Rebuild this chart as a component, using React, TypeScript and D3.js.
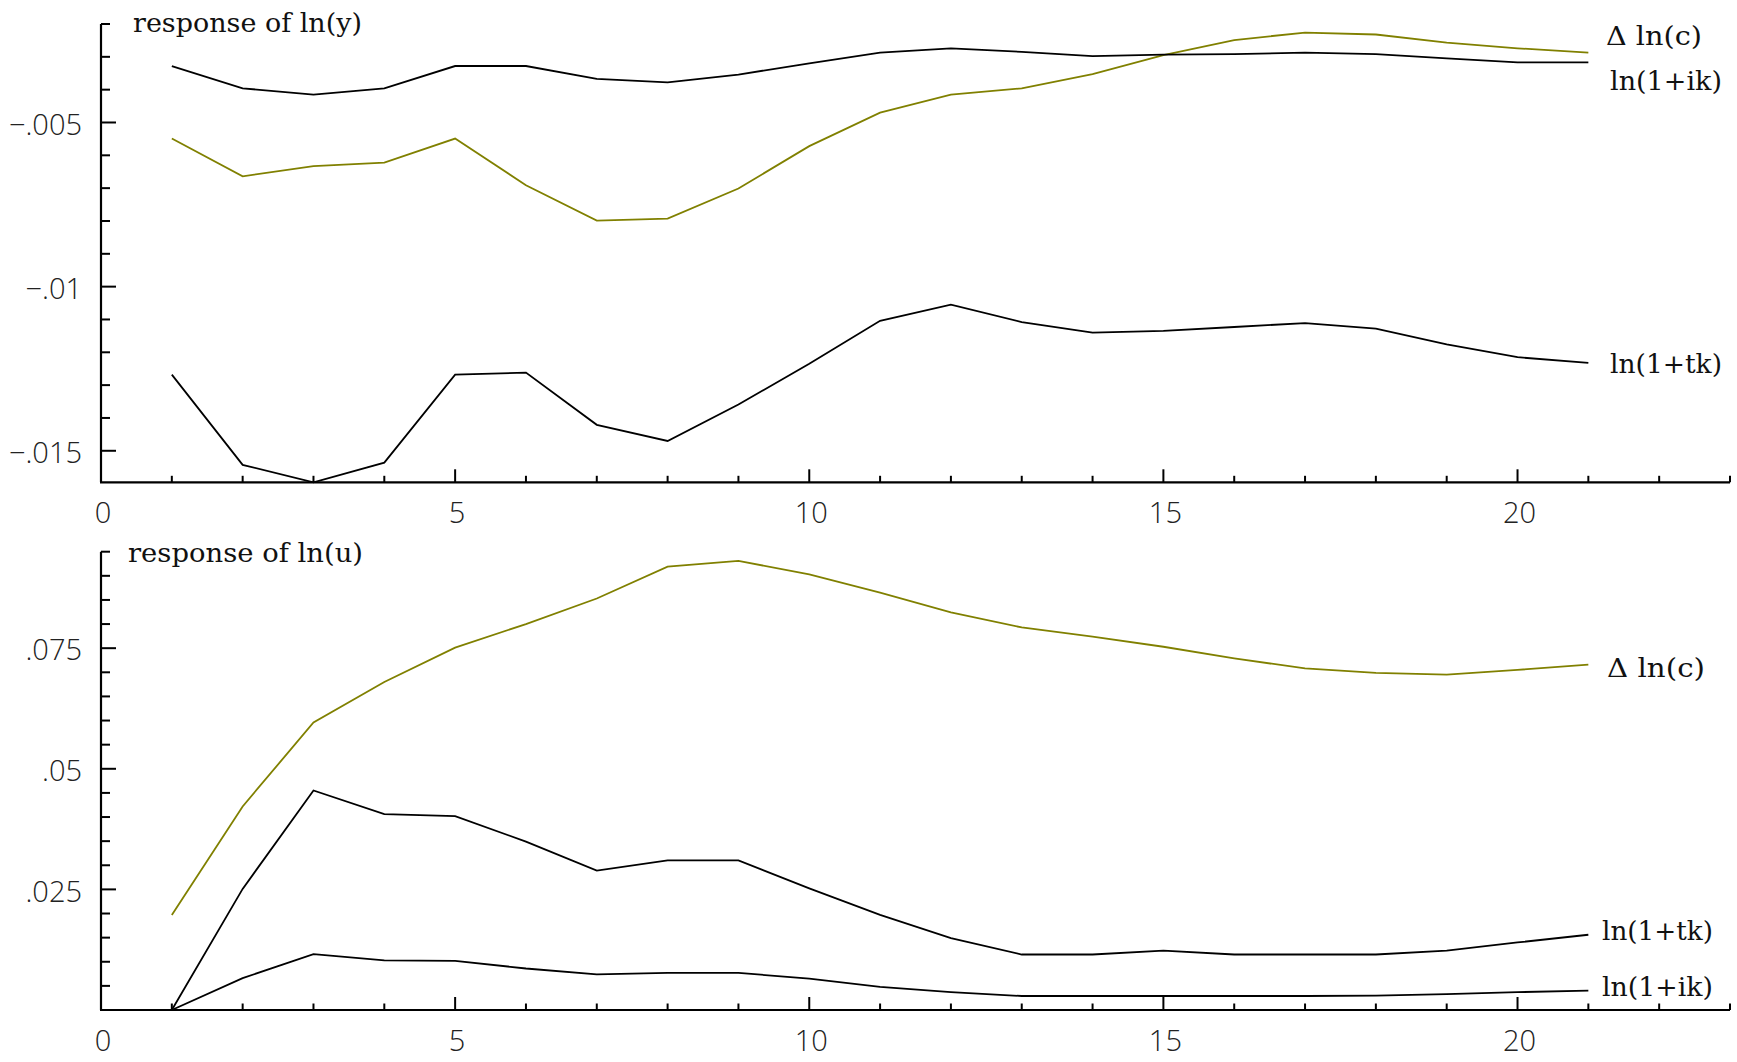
import React from "react";
import * as d3 from "d3";

const periods = [1, 2, 3, 4, 5, 6, 7, 8, 9, 10, 11, 12, 13, 14, 15, 16, 17, 18, 19, 20, 21];

const topIk = [-0.00328, -0.00396, -0.00415, -0.00396, -0.00328, -0.00328, -0.00367, -0.00378, -0.00354, -0.0032, -0.00287, -0.00274, -0.00285, -0.00298, -0.00293, -0.00292, -0.00287, -0.00292, -0.00305, -0.00317, -0.00317];
const topDc = [-0.00549, -0.00664, -0.00633, -0.00622, -0.00549, -0.00691, -0.00799, -0.00793, -0.00701, -0.00572, -0.0047, -0.00415, -0.00396, -0.00353, -0.00295, -0.00249, -0.00226, -0.00232, -0.00257, -0.00274, -0.00287];
const topTk = [-0.01268, -0.01543, -0.01596, -0.01536, -0.01268, -0.01262, -0.01421, -0.0147, -0.01359, -0.01235, -0.01104, -0.01055, -0.01108, -0.0114, -0.01135, -0.01123, -0.01111, -0.01128, -0.01176, -0.01215, -0.01232];

const botDc = [0.0197, 0.0422, 0.0596, 0.068, 0.0751, 0.08, 0.0853, 0.0919, 0.0931, 0.0903, 0.0865, 0.0824, 0.0793, 0.0774, 0.0753, 0.0729, 0.0708, 0.0699, 0.0695, 0.0705, 0.0716];
const botTk = [0, 0.0251, 0.0455, 0.0406, 0.0402, 0.0349, 0.0289, 0.031, 0.031, 0.0252, 0.0197, 0.0149, 0.0115, 0.0115, 0.0123, 0.0115, 0.0115, 0.0115, 0.0123, 0.014, 0.0156];
const botIk = [0, 0.0066, 0.0116, 0.0103, 0.0102, 0.0086, 0.0074, 0.0077, 0.0077, 0.0065, 0.0048, 0.0037, 0.0029, 0.0029, 0.0029, 0.0029, 0.0029, 0.003, 0.0033, 0.0037, 0.004];

const xLabelTicks = [0, 5, 10, 15, 20];
const topYLabelTicks = [-0.015, -0.01, -0.005];
const topYLabels = ["\u2212.015", "\u2212.01", "\u2212.005"];
const botYLabelTicks = [0.025, 0.05, 0.075];
const botYLabels = [".025", ".05", ".075"];

const OLIVE = "#808000";
const W = 1737;
const H = 1062;
const X0 = 101;
const X1 = 1730;

const xScale = d3.scaleLinear().domain([0, 23]).range([X0, X1]);
const xMinor = d3.range(0, 24);

const labelFont = "'DejaVu Serif', 'Liberation Serif', serif";
const tickFont = "'Open Sans', 'Liberation Sans', sans-serif";

type Series = { values: number[]; color: string; label: string; lx: number; ly: number; lw: number };

function Panel({ top, bottom, domain, minorTicks, majorTicks, majorLabels, series, title, titleX, titleY, titleW }: any) {
  const y = d3.scaleLinear().domain(domain).range([bottom, top]);
  const line = d3
    .line<number>()
    .x((_, i) => xScale(periods[i]))
    .y((d) => y(d));
  return (
    <g>
      {/* axes */}
      <line x1={X0} x2={X0} y1={top} y2={bottom} stroke="#000" strokeWidth={2.2} />
      <line x1={X0 - 1} x2={X1} y1={bottom} y2={bottom} stroke="#000" strokeWidth={2.2} />
      {minorTicks.map((t: number, i: number) => {
        const isMajor = majorTicks.some((m: number) => Math.abs(m - t) < 1e-9);
        return (
          <line key={"yt" + i} x1={X0} x2={X0 + (isMajor ? 15 : 9)} y1={y(t)} y2={y(t)} stroke="#000" strokeWidth={2} />
        );
      })}
      {xMinor.map((t) => {
        const isMajor = t % 5 === 0;
        return (
          <line key={"xt" + t} x1={xScale(t)} x2={xScale(t)} y1={bottom} y2={bottom - (isMajor ? 13 : 6.5)} stroke="#000" strokeWidth={2} />
        );
      })}
      {majorTicks.map((t: number, i: number) => (
        <text key={"yl" + i} x={82} y={y(t) + 4.5} textAnchor="end" dominantBaseline="middle" fontFamily={tickFont} fontWeight={300} fontSize={29} fill="#222">
          {majorLabels[i]}
        </text>
      ))}
      {xLabelTicks.map((t) => (
        <text key={"xl" + t} x={xScale(t) + 2} y={bottom + 33} textAnchor="middle" dominantBaseline="middle" fontFamily={tickFont} fontWeight={300} fontSize={29} fill="#222">
          {t}
        </text>
      ))}
      {/* title */}
      <text x={titleX} y={titleY} fontFamily={labelFont} fontSize={26} fill="#111" textLength={titleW} lengthAdjust="spacingAndGlyphs">
        {title}
      </text>
      {/* series */}
      {series.map((s: Series, i: number) => (
        <g key={"s" + i}>
          <path d={line(s.values) || ""} fill="none" stroke={s.color} strokeWidth={1.8} strokeLinejoin="miter" />
          <text x={s.lx} y={s.ly} fontFamily={labelFont} fontSize={26} fill="#111" textLength={s.lw} lengthAdjust="spacingAndGlyphs">
            {s.label}
          </text>
        </g>
      ))}
    </g>
  );
}

export default function App() {
  const topDomain = [d3.min(topTk) as number, -0.002];
  const topMinor = d3.range(-15, -1).map((v) => v / 1000);
  const botDomain = [0, 0.095];
  const botMinor = d3.range(0, 20).map((v) => v / 200);

  const topSeries: Series[] = [
    { values: topDc, color: OLIVE, label: "\u0394 ln(c)", lx: 1606, ly: 45, lw: 96 },
    { values: topIk, color: "#000", label: "ln(1+ik)", lx: 1610, ly: 90, lw: 112 },
    { values: topTk, color: "#000", label: "ln(1+tk)", lx: 1610, ly: 373, lw: 112 },
  ];
  const botSeries: Series[] = [
    { values: botDc, color: OLIVE, label: "\u0394 ln(c)", lx: 1607, ly: 677, lw: 98 },
    { values: botTk, color: "#000", label: "ln(1+tk)", lx: 1602, ly: 940, lw: 111 },
    { values: botIk, color: "#000", label: "ln(1+ik)", lx: 1602, ly: 996, lw: 111 },
  ];

  return (
    <svg width={W} height={H} style={{ position: "absolute", left: 0, top: 0, background: "#fff" }}>
      <rect width={W} height={H} fill="#fff" />
      <Panel
        top={24}
        bottom={482.3}
        domain={topDomain}
        minorTicks={topMinor}
        majorTicks={topYLabelTicks}
        majorLabels={topYLabels}
        series={topSeries}
        title="response of ln(y)"
        titleX={133}
        titleY={32}
        titleW={229}
      />
      <Panel
        top={551.7}
        bottom={1010}
        domain={botDomain}
        minorTicks={botMinor}
        majorTicks={botYLabelTicks}
        majorLabels={botYLabels}
        series={botSeries}
        title="response of ln(u)"
        titleX={128}
        titleY={561.5}
        titleW={235}
      />
    </svg>
  );
}
